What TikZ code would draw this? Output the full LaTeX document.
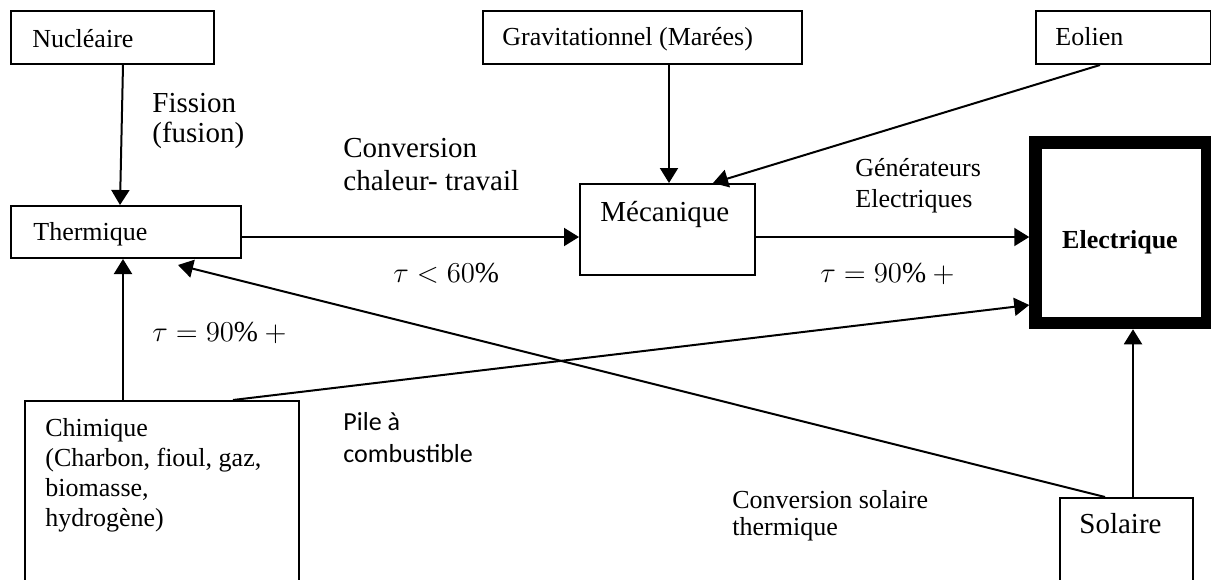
\documentclass[tikz,border=0pt]{standalone}
\usepackage{fontspec}
\setmainfont{Liberation Serif}
\newfontfamily\calib{Carlito}
\usetikzlibrary{arrows.meta,calc}
\newcommand{\mlines}[1]{\begin{tabular}[t]{@{}l@{}}#1\end{tabular}}
\begin{document}
\begin{tikzpicture}[x=0.5pt,y=-0.5pt,
  box/.style={draw,line width=1pt,rectangle,anchor=north west,inner sep=0pt},
  thick box/.style={draw,line width=6.25pt,rectangle,anchor=north west,inner sep=0pt},
  txt/.style={inner sep=0pt,anchor=base west,font=\fontsize{13}{15}\selectfont},
  bigtxt/.style={inner sep=0pt,anchor=base west,font=\fontsize{14.5}{16.5}\selectfont},
  mathtxt/.style={inner sep=0pt,anchor=base west,font=\fontsize{14.5}{16.5}\selectfont},
  arr/.style={line width=1pt,-{Triangle[length=7.5pt,width=9pt]}}]
\useasboundingbox (0,0) rectangle (1211,579);
\clip (0,0) rectangle (1211,579);
% boxes
\node[box,minimum width=101.5pt,minimum height=26.5pt] (nuc) at (10,10) {};
\node[box,minimum width=115pt,minimum height=26pt] (therm) at (10,205) {};
\node[box,minimum width=159.5pt,minimum height=26.5pt] (grav) at (482,10) {};
\node[box,minimum width=87.5pt,minimum height=26.5pt] (eol) at (1035,10) {};
\node[box,minimum width=87.5pt,minimum height=45.5pt] (mec) at (579,183) {};
\node[thick box,minimum width=85.75pt,minimum height=90.25pt] (elec) at (1029.25,136.25) {};
\node[box,minimum width=137pt,minimum height=100pt] (chim) at (24,400) {};
\node[box,minimum width=66.5pt,minimum height=50pt] (sol) at (1059,497) {};
% box texts
\node[txt] (tnuc) at (32,47) {Nucléaire};
\node[txt] (ttherm) at (33,240) {Thermique};
\node[txt] (tgrav) at (502,45) {Gravitationnel (Marées)};
\node[txt] (teol) at (1055,45) {Eolien};
\node[bigtxt] (tmec) at (600,221) {Mécanique};
\node[txt,anchor=base] (telec) at (1120,248) {\bfseries Electrique};
\node[txt] (tchim) at (45,436) {\mlines{Chimique\\(Charbon, fioul, gaz,\\biomasse,\\hydrogène)}};
\node[bigtxt] (tsol) at (1079,533) {Solaire};
% labels
\node[bigtxt,font=\fontsize{14.5}{15}\selectfont] (lfis) at (152,112) {\mlines{Fission\\(fusion)}};
\node[bigtxt] (lconv) at (343,157) {\mlines{Conversion\\chaleur- travail}};
\node[txt,font=\fontsize{13}{15.5}\selectfont] (lgen) at (855,176) {\mlines{Générateurs\\Electriques}};
\node[mathtxt] (ltau1) at (393,282) {$\tau < 60\%$};
\node[mathtxt] (ltau2) at (820,282) {$\tau = 90\% +{}$};
\node[mathtxt] (ltau3) at (152,341) {$\tau = 90\% +{}$};
\node[txt,font=\fontsize{13}{16}\selectfont\calib] (lpile) at (343,430) {\mlines{Pile à\\combustible}};
\node[txt,font=\fontsize{13}{13.5}\selectfont] (lsol) at (732,508) {\mlines{Conversion solaire\\thermique}};
% connectors
\draw[arr] ($(nuc.south west)+(113,0)$) -- ($(therm.north west)+(110,0)$);
\draw[arr] ($(grav.south west)+(187,0)$) -- ($(mec.north west)+(90,0)$);
\draw[arr] ($(eol.south west)+(65,0)$) -- ($(mec.north west)+(134,0)$);
\draw[arr] ($(therm.north east)+(0,32)$) coordinate (t1) -- (t1 -| mec.west);
\draw[arr] ($(mec.north east)+(0,54)$) coordinate (m1) -- (m1 -| elec.west);
\draw[arr] ($(chim.north west)+(99,0)$) coordinate (c1) -- (c1 |- therm.south);
\draw[arr] ($(chim.north west)+(209,0)$) -- ($(elec.north west)+(0,168.75)$);
\draw[arr] ($(sol.north west)+(74,0)$) coordinate (s1) -- (s1 |- elec.south);
\coordinate (thtip) at ($(therm.south west)+(168,6)$);
\draw[arr] ($(sol.north west)+(46,0)$) -- (thtip);
\end{tikzpicture}
\end{document}
